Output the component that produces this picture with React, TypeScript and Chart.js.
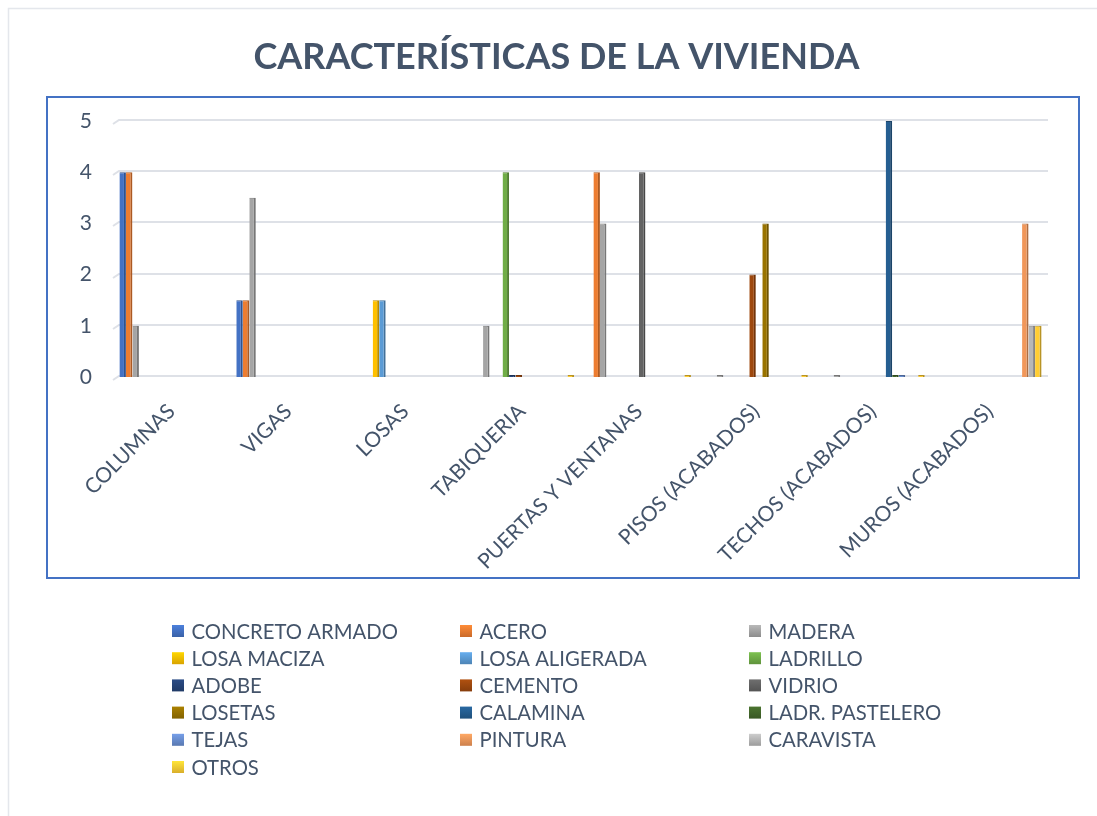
import React, { useEffect, useRef } from 'react';
import { Chart, registerables } from 'chart.js';

Chart.register(...registerables);

// ---------- data ----------
const chartTitle = 'CARACTERÍSTICAS DE LA VIVIENDA';

const categories = [
  'COLUMNAS',
  'VIGAS',
  'LOSAS',
  'TABIQUERIA',
  'PUERTAS Y VENTANAS',
  'PISOS (ACABADOS)',
  'TECHOS (ACABADOS)',
  'MUROS (ACABADOS)',
];

const yTicks = [0, 1, 2, 3, 4, 5];

const seriesNames = [
  'CONCRETO ARMADO',
  'ACERO',
  'MADERA',
  'LOSA MACIZA',
  'LOSA ALIGERADA',
  'LADRILLO',
  'ADOBE',
  'CEMENTO',
  'VIDRIO',
  'LOSETAS',
  'CALAMINA',
  'LADR. PASTELERO',
  'TEJAS',
  'PINTURA',
  'CARAVISTA',
  'OTROS',
];

const seriesColors = [
  '#4472C4',
  '#ED7D31',
  '#A5A5A5',
  '#FFC000',
  '#5B9BD5',
  '#70AD47',
  '#264478',
  '#9E480E',
  '#636363',
  '#997300',
  '#255E91',
  '#43682B',
  '#698ED0',
  '#F1975A',
  '#B7B7B7',
  '#FFCD33',
];

const concretoArmado = [4, 1.5, null, null, null, null, null, null];
const acero = [4, 1.5, null, null, 4, null, null, null];
const madera = [1, 3.5, null, 1, 3, 0, 0, null];
const losaMaciza = [null, null, 1.5, null, null, null, null, null];
const losaAligerada = [null, null, 1.5, null, null, null, null, null];
const ladrillo = [null, null, null, 4, null, null, null, null];
const adobe = [null, null, null, 0, null, null, null, null];
const cemento = [null, null, null, 0, null, 2, null, null];
const vidrio = [null, null, null, null, 4, null, null, null];
const losetas = [null, null, null, null, null, 3, null, null];
const calamina = [null, null, null, null, null, null, 5, null];
const ladrPastelero = [null, null, null, null, null, null, 0, null];
const tejas = [null, null, null, null, null, null, 0, null];
const pintura = [null, null, null, null, null, null, null, 3];
const caravista = [null, null, null, null, null, null, null, 1];
const otros = [null, null, null, 0, 0, 0, 0, 1];

const seriesValues = [
  concretoArmado,
  acero,
  madera,
  losaMaciza,
  losaAligerada,
  ladrillo,
  adobe,
  cemento,
  vidrio,
  losetas,
  calamina,
  ladrPastelero,
  tejas,
  pintura,
  caravista,
  otros,
];

// ---------- style ----------
const FONT = "Lato, 'Open Sans', 'Noto Sans', sans-serif";
const TEXT = '#44546A';
const GRID = '#DEE1E7';
const FRAME = '#4472C4';

function shade(hex: string, f: number) {
  const n = parseInt(hex.slice(1), 16);
  const r = Math.min(255, Math.round(((n >> 16) & 255) * f));
  const g = Math.min(255, Math.round(((n >> 8) & 255) * f));
  const b = Math.min(255, Math.round((n & 255) * f));
  return `rgb(${r},${g},${b})`;
}

const decorPlugin = {
  id: 'decor',
  beforeDraw(chart: any) {
    const { ctx, chartArea: a } = chart;
    ctx.save();
    ctx.fillStyle = '#ffffff';
    ctx.fillRect(0, 0, chart.width, chart.height);
    // faint outer border of the chart object
    ctx.strokeStyle = '#E4E7EC';
    ctx.lineWidth = 1.5;
    ctx.beginPath();
    ctx.moveTo(8.5, chart.height);
    ctx.lineTo(8.5, 8.5);
    ctx.lineTo(chart.width, 8.5);
    ctx.stroke();
    // blue plot frame
    ctx.strokeStyle = FRAME;
    ctx.lineWidth = 2;
    const l = a.left - 66;
    const t = a.top - 24;
    const r = a.right + 31;
    const b = a.bottom + 201;
    ctx.strokeRect(l, t, r - l, b - t);
    // title
    ctx.fillStyle = TEXT;
    ctx.font = `bold 36px ${FONT}`;
    ctx.textAlign = 'center';
    ctx.textBaseline = 'middle';
    ctx.fillText(chartTitle, (chart.width + 16) / 2, 57);
    ctx.restore();
  },
  beforeDatasetsDraw(chart: any) {
    const { ctx, chartArea: a } = chart;
    const ys = chart.scales.y;
    ctx.save();
    ctx.strokeStyle = GRID;
    ctx.lineWidth = 2;
    ys.ticks.forEach((t: any) => {
      const y = Math.round(ys.getPixelForValue(t.value)) - 1;
      ctx.beginPath();
      ctx.moveTo(a.left, y + 4);
      ctx.lineTo(a.left + 6, y);
      ctx.lineTo(a.right, y);
      ctx.stroke();
    });
    ctx.restore();
  },
  afterDraw(chart: any) {
    const { ctx } = chart;
    const cols = [172, 460, 749];
    const row0 = 631;
    const rowH = 27.2;
    ctx.save();
    ctx.font = `20.3px ${FONT}`;
    ctx.textBaseline = 'middle';
    ctx.textAlign = 'left';
    chart.data.datasets.forEach((ds: any, i: number) => {
      const x = cols[i % 3];
      const y = row0 + Math.floor(i / 3) * rowH;
      const g = ctx.createLinearGradient(0, y - 6, 0, y + 6);
      g.addColorStop(0, shade(ds.baseColor, 1.12));
      g.addColorStop(1, shade(ds.baseColor, 0.85));
      ctx.fillStyle = g;
      ctx.fillRect(x, y - 6, 12, 12);
      ctx.fillStyle = TEXT;
      ctx.fillText(ds.label, x + 19.5, y + 1);
    });
    ctx.restore();
  },
};

export default function App() {
  const ref = useRef<HTMLCanvasElement | null>(null);

  useEffect(() => {
    if (!ref.current) return;
    const datasets = seriesNames.map((name, i) => ({
      label: name,
      data: seriesValues[i],
      baseColor: seriesColors[i],
      backgroundColor: seriesColors[i],
      borderColor: shade(seriesColors[i], 0.72),
      borderWidth: { top: 1, right: 2, left: 0, bottom: 0 },
      borderSkipped: 'start',
      minBarLength: 2,
      categoryPercentage: 0.89,
      barPercentage: 1,
    }));

    const chart = new Chart(ref.current, {
      type: 'bar',
      data: { labels: categories, datasets: datasets as any },
      plugins: [decorPlugin as any],
      options: {
        responsive: false,
        animation: false,
        devicePixelRatio: 1,
        layout: { padding: { left: 0, right: 49, top: 121, bottom: 239 } },
        plugins: {
          legend: { display: false },
          tooltip: { enabled: false },
          title: { display: false },
        },
        scales: {
          x: {
            grid: { display: false, drawTicks: false },
            border: { display: false },
            ticks: {
              color: TEXT,
              font: { family: FONT, size: 21 },
              maxRotation: 45,
              minRotation: 45,
              autoSkip: false,
              padding: 22,
            },
            afterFit(s: any) {
              s.height = 200;
            },
          },
          y: {
            min: 0,
            max: 5,
            grid: { display: false, drawTicks: false },
            border: { display: false },
            afterBuildTicks(s: any) {
              s.ticks = yTicks.map((v) => ({ value: v }));
            },
            ticks: {
              color: TEXT,
              font: { family: FONT, size: 21 },
              padding: 21,
            },
            afterFit(s: any) {
              s.width = 113;
            },
          },
        },
      },
    });
    return () => chart.destroy();
  }, []);

  return (
    <canvas
      ref={ref}
      width={1097}
      height={816}
      style={{ position: 'absolute', left: 0, top: 0, width: 1097, height: 816 }}
    />
  );
}
